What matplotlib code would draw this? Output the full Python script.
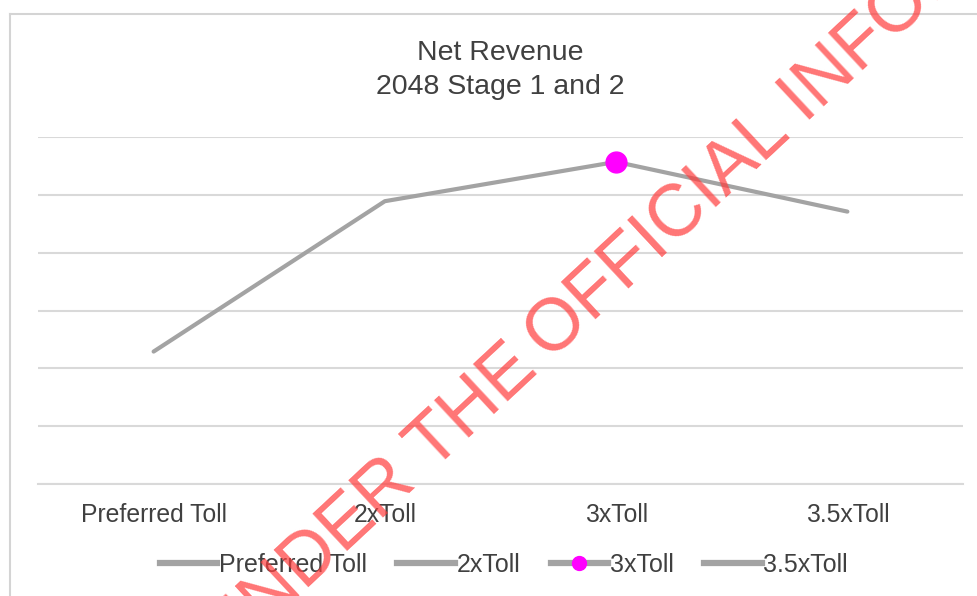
import numpy as np
import matplotlib.pyplot as plt
from matplotlib.lines import Line2D

plt.rcParams['font.family'] = ['Liberation Sans', 'DejaVu Sans']

# Net revenue by toll scenario (no value axis shown, units in gridline steps)
scenarios = ['Preferred Toll', '2xToll', '3xToll', '3.5xToll']
net_revenue = [2.29, 4.89, 5.57, 4.71]
highlight = '3xToll'

line_col = '#a3a3a3'
grid_col = '#d9d9d9'
text_col = '#404040'
mark_col = '#ff00ff'

fig = plt.figure(figsize=(9.78, 5.96), dpi=100)
W, H = 978, 596
ax = fig.add_axes([38 / W, 1 - 484 / H, (963 - 38) / W, (484 - 137) / H])

x = np.arange(len(scenarios))
ax.plot(x, net_revenue, color=line_col, lw=3, solid_capstyle='round', zorder=3)
hi = scenarios.index(highlight)
ax.plot(x[hi], net_revenue[hi], 'o', color=mark_col, ms=15, zorder=4)

ax.set_xlim(-0.5, len(scenarios) - 0.5)
ax.set_ylim(0, 6)
ax.set_yticks(np.arange(0, 7, 1))
ax.set_yticklabels([])
ax.yaxis.grid(True, color=grid_col, lw=1.5)
ax.set_axisbelow(True)
ax.set_xticks(x)
ax.set_xticklabels(scenarios, fontsize=17.8, color=text_col)
ax.tick_params(axis='both', length=0)
ax.tick_params(axis='x', pad=14)
for s in ['top', 'left', 'right']:
    ax.spines[s].set_visible(False)
ax.spines['bottom'].set_color(grid_col)
ax.spines['bottom'].set_linewidth(1.5)

fig.text(500 / W, 1 - 53 / H, 'Net Revenue', ha='center', va='center',
         fontsize=20.5, color=text_col)
fig.text(500 / W, 1 - 87 / H, '2048 Stage 1 and 2', ha='center', va='center',
         fontsize=20.5, color=text_col)

# legend: one entry per scenario
handles = []
for s in scenarios:
    if s == highlight:
        handles.append(Line2D([], [], color=line_col, lw=4.5, marker='o',
                              ms=10, mfc=mark_col, mec=mark_col))
    else:
        handles.append(Line2D([], [], color=line_col, lw=4.5))
fig.legend(handles, scenarios, loc='center', bbox_to_anchor=(504 / W, 1 - 565 / H),
           ncol=4, frameon=False, fontsize=18, handlelength=2.3,
           handletextpad=0.08, columnspacing=1.2, labelcolor=text_col)

# chart frame (top and left edges only)
fig.add_artist(Line2D([10 / W, 1.0], [1 - 14 / H, 1 - 14 / H],
                      transform=fig.transFigure, color='#d4d4d4', lw=1.5))
fig.add_artist(Line2D([10 / W, 10 / W], [0, 1 - 14 / H],
                      transform=fig.transFigure, color='#d4d4d4', lw=1.5))

# watermark stamp
ang = 43
wm = dict(fontsize=53, color='#ff3b3b', alpha=0.7, rotation=ang,
          rotation_mode='anchor', va='baseline', zorder=10)
th = np.deg2rad(ang)
sx, sy = 550, 362
fig.text(sx / W, 1 - sy / H, 'OFFICIAL INFORMATION ACT', ha='left', **wm)
gap = 14
fig.text((sx - gap * np.cos(th)) / W, 1 - (sy + gap * np.sin(th)) / H,
         'RELEASED UNDER THE', ha='right', **wm)

fig.savefig('out.png', dpi=100)
